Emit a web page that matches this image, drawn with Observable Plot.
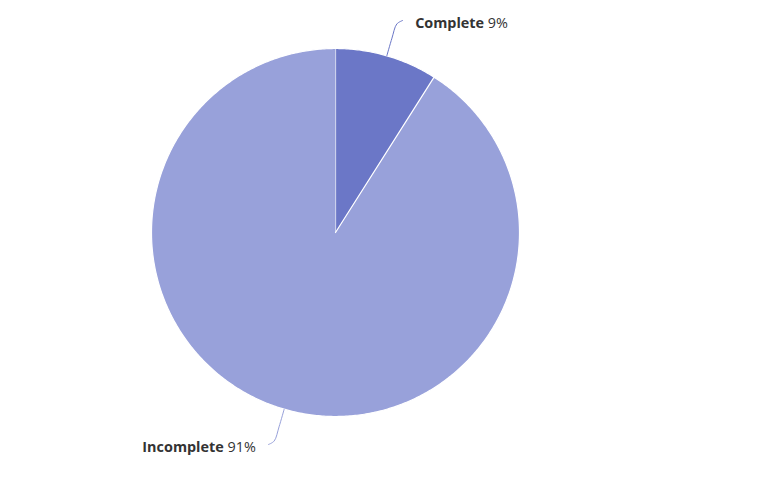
<!DOCTYPE html>
<html>
<head>
<meta charset="utf-8">
<script src="https://cdn.jsdelivr.net/npm/d3@7"></script>
<script src="https://cdn.jsdelivr.net/npm/@observablehq/plot@0.6"></script>
<style>
  html, body { margin: 0; padding: 0; background: #fff; }
  svg { display: block; }
</style>
</head>
<body>
<div id="chart"></div>
<script>
const categories = ["Complete", "Incomplete"];
const values = [9, 91];
const percentLabels = ["9%", "91%"];
const colors = ["#6b77c7", "#98a1da"];

const arcs = d3.pie().sort(null).value(d => d.value)(
  categories.map((c, i) => ({cat: c, value: values[i], pct: percentLabels[i]}))
);

// slice polygons in unit-circle coordinates (angle clockwise from 12 o'clock)
const slicePts = [];
arcs.forEach(a => {
  const n = Math.max(4, Math.ceil((a.endAngle - a.startAngle) / 0.01));
  slicePts.push({cat: a.data.cat, x: 0, y: 0});
  for (let k = 0; k <= n; k++) {
    const t = a.startAngle + (a.endAngle - a.startAngle) * k / n;
    slicePts.push({cat: a.data.cat, x: Math.sin(t), y: Math.cos(t)});
  }
});

// connectors and labels
const connPts = [];
const labels = [];
arcs.forEach(a => {
  const m = (a.startAngle + a.endAngle) / 2;
  const s = Math.sin(m), c = Math.cos(m);
  const side = s >= 0 ? 1 : -1;
  const end = {x: s * 1.2 + 0.03 * side, y: c * 1.2};
  connPts.push({cat: a.data.cat, x: s * 1.0, y: c * 1.0});
  connPts.push({cat: a.data.cat, x: s * 1.1, y: c * 1.1});
  connPts.push({cat: a.data.cat, x: s * 1.18 + 0.004 * side, y: c * 1.18});
  connPts.push({cat: a.data.cat, ...end});
  labels.push({cat: a.data.cat, pct: a.data.pct, x: end.x + 0.068 * side, y: end.y - 0.018, anchor: side > 0 ? "start" : "end"});
});

const svg = Plot.plot({
  width: 771,
  height: 481,
  margin: 0,
  style: {fontFamily: "'Open Sans', sans-serif", fontSize: "14.4px", background: "#fff"},
  x: {domain: [-1, 1], range: [151, 519], axis: null},
  y: {domain: [-1, 1], range: [416, 48], axis: null},
  color: {domain: categories, range: colors},
  marks: [
    Plot.line(slicePts, {x: "x", y: "y", z: "cat", fill: "cat", stroke: "white", strokeWidth: 1.2, strokeLinejoin: "round"}),
    Plot.line(connPts, {x: "x", y: "y", z: "cat", stroke: "cat", strokeWidth: 1, curve: "catmull-rom"}),
    Plot.text(labels.filter(d => d.anchor === "start"), {x: "x", y: "y", text: "cat", textAnchor: "start", fontSize: 14.4, fill: "#333"}),
    Plot.text(labels.filter(d => d.anchor === "end"), {x: "x", y: "y", text: "cat", textAnchor: "end", fontSize: 14.4, fill: "#333"})
  ]
});

// mixed-weight labels: bold name + regular percentage
const ordered = [...labels.filter(d => d.anchor === "start"), ...labels.filter(d => d.anchor === "end")];
d3.select(svg).selectAll("g[aria-label='text'] text").each(function(_, i) {
  const d = ordered[i];
  if (!d) return;
  const t = d3.select(this);
  t.text(null);
  t.append("tspan").attr("font-weight", "bold").text(d.cat);
  t.append("tspan").attr("font-weight", "normal").text(" " + d.pct);
});

document.getElementById("chart").appendChild(svg);
</script>
</body>
</html>
